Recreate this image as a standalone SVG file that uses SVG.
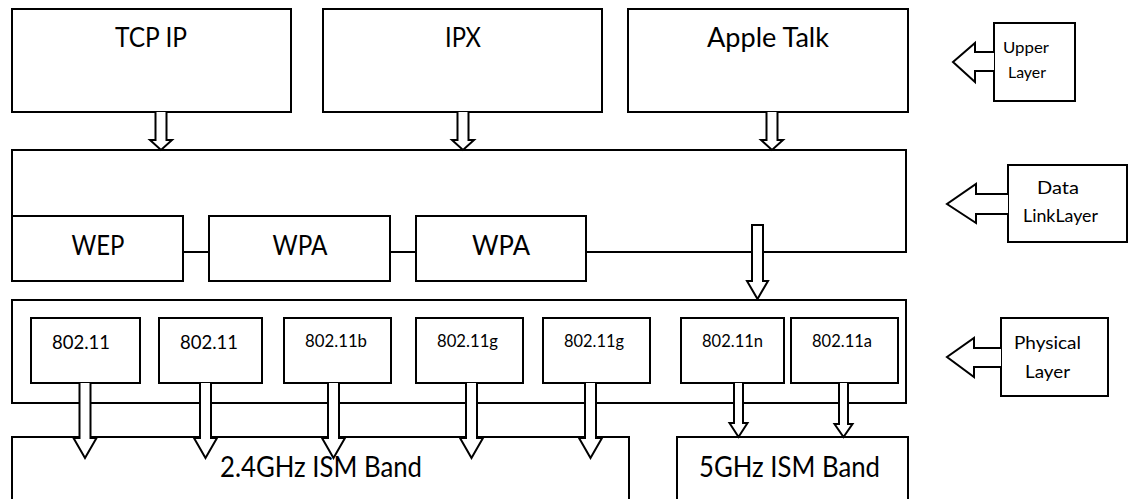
<svg xmlns="http://www.w3.org/2000/svg" width="1131" height="499" viewBox="0 0 1131 499">
<style>
.box{fill:#fff;stroke:#000;stroke-width:2}
.arr{fill:#fff;stroke:#000;stroke-width:2;stroke-linejoin:miter}
.ln{stroke:#000;stroke-width:2;fill:none}
text{font-family:Lato,"Liberation Sans",sans-serif;fill:#000;text-anchor:middle}
.big{font-size:26px}
.mid{font-size:18.5px}
.sm{font-size:16.5px}
</style>
<rect width="1131" height="499" fill="#fff"/>
<g id="nodes">
<g id="tcpip"><rect class="box" x="12" y="9" width="279" height="103"/><text class="big" x="151" y="47" textLength="72" lengthAdjust="spacingAndGlyphs">TCP IP</text></g>
<g id="ipx"><rect class="box" x="323" y="9" width="279" height="103"/><text class="big" x="463" y="47" textLength="36" lengthAdjust="spacingAndGlyphs">IPX</text></g>
<g id="appletalk"><rect class="box" x="628" y="9" width="280" height="103"/><text class="big" x="768" y="47" textLength="122" lengthAdjust="spacingAndGlyphs">Apple Talk</text></g>
<g id="datalink"><rect class="box" x="12" y="150" width="894" height="102"/></g>
<g id="wep"><rect class="box" x="12" y="216" width="171" height="65"/><text class="big" x="98" y="255" textLength="53" lengthAdjust="spacingAndGlyphs">WEP</text></g>
<g id="wpa1"><rect class="box" x="209" y="216" width="181" height="65"/><text class="big" x="300" y="255" textLength="55" lengthAdjust="spacingAndGlyphs">WPA</text></g>
<g id="wpa2"><rect class="box" x="416" y="216" width="170" height="65"/><text class="big" x="501" y="255" textLength="58" lengthAdjust="spacingAndGlyphs">WPA</text></g>
<g id="physical"><rect class="box" x="12" y="300" width="894" height="103"/></g>
<g id="p1"><rect class="box" x="31" y="318" width="109" height="65"/><text class="mid" x="81" y="349" textLength="58" lengthAdjust="spacingAndGlyphs">802.11</text></g>
<g id="p2"><rect class="box" x="159" y="318" width="103" height="65"/><text class="mid" x="209" y="349" textLength="58" lengthAdjust="spacingAndGlyphs">802.11</text></g>
<g id="p3"><rect class="box" x="284" y="318" width="107" height="65"/><text class="sm" x="336" y="347" textLength="62" lengthAdjust="spacingAndGlyphs">802.11b</text></g>
<g id="p4"><rect class="box" x="416" y="318" width="107" height="65"/><text class="sm" x="467.5" y="347" textLength="61" lengthAdjust="spacingAndGlyphs">802.11g</text></g>
<g id="p5"><rect class="box" x="543" y="318" width="107" height="65"/><text class="sm" x="594" y="347" textLength="60" lengthAdjust="spacingAndGlyphs">802.11g</text></g>
<g id="p6"><rect class="box" x="681" y="318" width="103" height="65"/><text class="sm" x="732.5" y="347" textLength="61" lengthAdjust="spacingAndGlyphs">802.11n</text></g>
<g id="p7"><rect class="box" x="791" y="318" width="107" height="65"/><text class="sm" x="842" y="347" textLength="60" lengthAdjust="spacingAndGlyphs">802.11a</text></g>
<g id="band24"><rect class="box" x="12" y="437" width="617" height="80"/><text class="big" x="321" y="477" style="font-size:28px" textLength="202" lengthAdjust="spacingAndGlyphs">2.4GHz ISM Band</text></g>
<g id="band5"><rect class="box" x="677" y="437" width="231" height="80"/><text class="big" x="789.5" y="477" style="font-size:28px" textLength="181" lengthAdjust="spacingAndGlyphs">5GHz ISM Band</text></g>
<g id="upperlayer"><rect class="box" x="994" y="23" width="81" height="78"/><text style="font-size:16px" x="1026" y="53" textLength="46" lengthAdjust="spacingAndGlyphs">Upper</text><text style="font-size:16px" x="1027" y="78" textLength="38" lengthAdjust="spacingAndGlyphs">Layer</text></g>
<g id="datalinklayer"><rect class="box" x="1008" y="165" width="119" height="77"/><text style="font-size:17.5px" x="1058" y="194" textLength="42" lengthAdjust="spacingAndGlyphs">Data</text><text style="font-size:17.5px" x="1060.5" y="222" textLength="75" lengthAdjust="spacingAndGlyphs">LinkLayer</text></g>
<g id="physicallayer"><rect class="box" x="1001" y="318" width="107" height="78"/><text style="font-size:18px" x="1047.5" y="349" textLength="67" lengthAdjust="spacingAndGlyphs">Physical</text><text style="font-size:18px" x="1047.5" y="378" textLength="45" lengthAdjust="spacingAndGlyphs">Layer</text></g>
</g>
<g id="connectors">
<line class="ln" x1="183" y1="252" x2="209" y2="252"/>
<line class="ln" x1="390" y1="252" x2="416" y2="252"/>
<path class="arr" d="M155.5,112 V140 H150 L161,150 L172,140 H166.5 V112"/>
<path class="arr" d="M457.5,112 V140 H452 L463,150 L474,140 H468.5 V112"/>
<path class="arr" d="M766.5,112 V140 H761 L772,150 L783,140 H777.5 V112"/>
<path class="arr" d="M752,225 H763 V281 H768 L757.5,299 L747,281 H752 Z"/>
<path class="arr" d="M79.5,383 V438 H73.5 L85,458 L96.5,438 H90.5 V383"/>
<path class="arr" d="M200,383 V438 H194 L205.5,458 L217,438 H211 V383"/>
<path class="arr" d="M328,383 V438 H322 L333.5,458 L345,438 H339 V383"/>
<path class="arr" d="M466,383 V438 H460 L471.5,458 L483,438 H477 V383"/>
<path class="arr" d="M585,383 V438 H579 L590.5,458 L602,438 H596 V383"/>
<path class="arr" d="M734,383 V423 H729.5 L738.5,437 L747.5,423 H743 V383"/>
<path class="arr" d="M839,383 V424 H834.5 L843.5,437 L852.5,424 H848 V383"/>
<path class="arr" d="M994,52 H975 V43 L953,62 L975,82 V71 H994"/>
<path class="arr" d="M1008,194 H976 V184 L947,204 L976,223 V214 H1008"/>
<path class="arr" d="M1001,348 H974 V338 L947,357 L974,377 V367 H1001"/>
</g>
</svg>
